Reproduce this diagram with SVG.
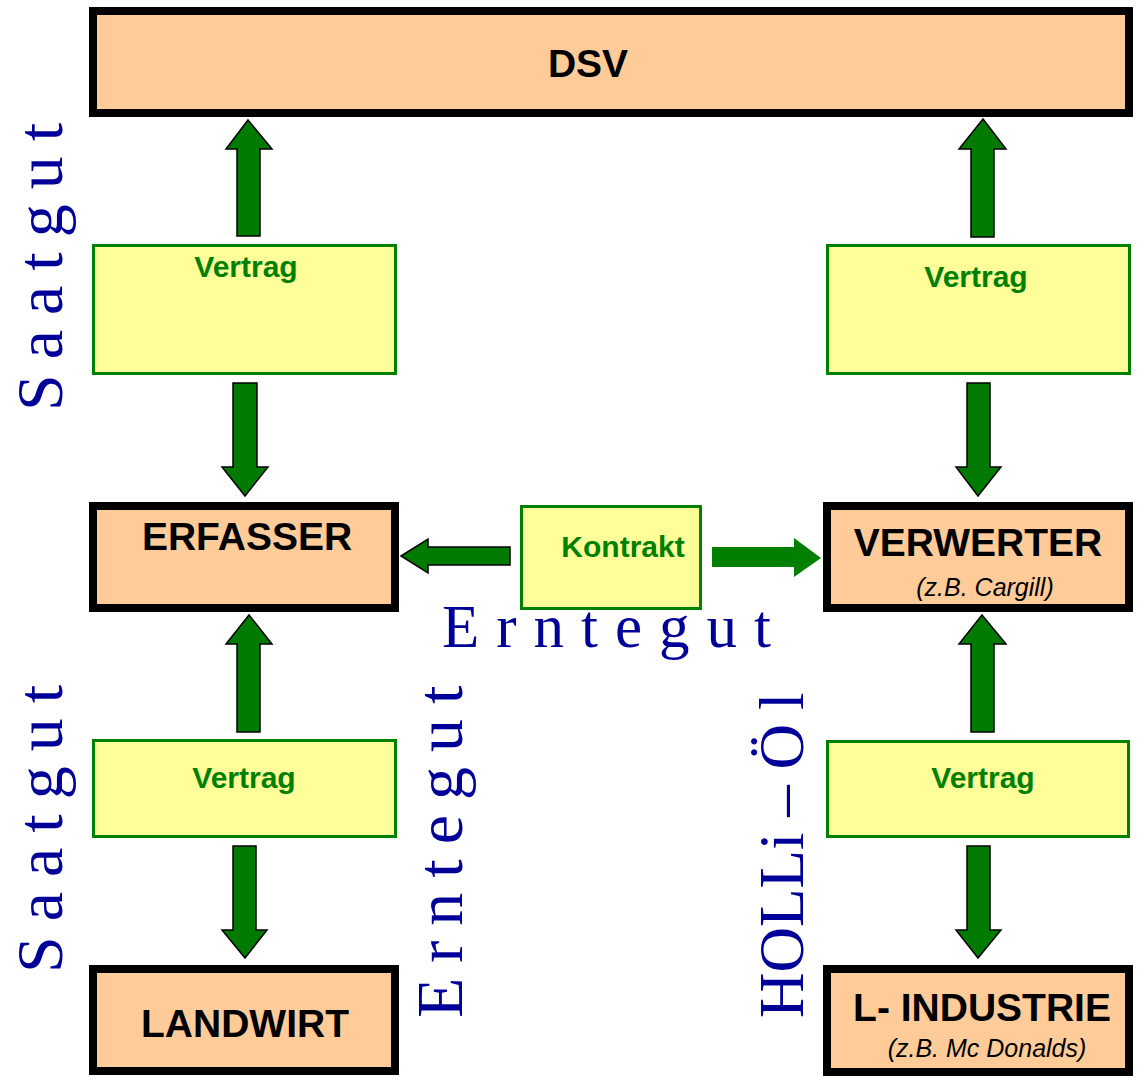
<svg xmlns="http://www.w3.org/2000/svg" width="1144" height="1081" viewBox="0 0 1144 1081">
<style>
.main{fill:#FFCC99;stroke:#000;stroke-width:8}
.vt{fill:#FFFF99;stroke:#008000;stroke-width:3}
.arr{fill:#007A00;stroke:#000;stroke-width:1.5;stroke-linejoin:miter}
.arr2{fill:#008000;stroke:none}
.big{font-family:"Liberation Sans",Arial,sans-serif;font-weight:bold;font-size:39px;fill:#000;text-anchor:middle}
.sub{font-family:"Liberation Sans",Arial,sans-serif;font-style:italic;font-size:25px;fill:#000;text-anchor:middle}
.gt{font-family:"Liberation Sans",Arial,sans-serif;font-weight:bold;font-size:30px;fill:#008000;text-anchor:middle}
.flow{font-family:"Liberation Serif","Times New Roman",serif;font-size:66px;fill:#000099}
</style>
<rect width="1144" height="1081" fill="#fff"/>
<g id="connectors">
<polygon class="arr" points="248,120 272,149 260,149 260,236 237,236 237,149 226,149"/>
<polygon class="arr" points="233,383 257,383 257,467 268,467 245,496 222,467 233,467"/>
<polygon class="arr" points="249,615 272,644 260,644 260,732 237,732 237,644 226,644"/>
<polygon class="arr" points="233,846 256,846 256,930 267,930 245,958 222,930 233,930"/>
<polygon class="arr" points="983,119 1006,149 994,149 994,237 971,237 971,149 959,149"/>
<polygon class="arr" points="967,383 990,383 990,467 1001,467 978,496 956,467 967,467"/>
<polygon class="arr" points="982,615 1006,644 994,644 994,732 971,732 971,644 959,644"/>
<polygon class="arr" points="967,846 990,846 990,930 1001,930 978,958 956,930 967,930"/>
<polygon class="arr" points="401,556 428,539 428,547 510,547 510,565 428,565 428,573"/>
<polygon class="arr2" points="712,547 794,547 794,538 821,558 794,577 794,567 712,567"/>
</g>
<g id="dsv"><rect class="main" x="93" y="11" width="1036" height="102"/><text class="big" x="588" y="77">DSV</text></g>
<g id="vertrag-lo"><rect class="vt" x="93.5" y="245.5" width="302" height="128"/><text class="gt" x="246" y="277">Vertrag</text></g>
<g id="vertrag-ro"><rect class="vt" x="827.5" y="245.5" width="302" height="128"/><text class="gt" x="976" y="287">Vertrag</text></g>
<g id="erfasser"><rect class="main" x="93" y="506" width="302" height="102"/><text class="big" x="247" y="550">ERFASSER</text></g>
<g id="kontrakt"><rect class="vt" x="521.5" y="506.5" width="179" height="102"/><text class="gt" x="623" y="557">Kontrakt</text></g>
<g id="verwerter"><rect class="main" x="827" y="506" width="302" height="102"/><text class="big" x="978" y="556">VERWERTER</text><text class="sub" x="985" y="596">(z.B. Cargill)</text></g>
<g id="vertrag-lu"><rect class="vt" x="93.5" y="740.5" width="302" height="96"/><text class="gt" x="244" y="788">Vertrag</text></g>
<g id="vertrag-ru"><rect class="vt" x="827.5" y="741.5" width="301" height="95"/><text class="gt" x="983" y="788">Vertrag</text></g>
<g id="landwirt"><rect class="main" x="93" y="969" width="302" height="102"/><text class="big" x="245" y="1037">LANDWIRT</text></g>
<g id="industrie"><rect class="main" x="827" y="969" width="302" height="103"/><text class="big" x="982" y="1021">L- INDUSTRIE</text><text class="sub" x="987" y="1057">(z.B. Mc Donalds)</text></g>
<g id="labels">
<text class="flow" letter-spacing="15" transform="translate(62,411) rotate(-90)">Saatgut</text>
<text class="flow" letter-spacing="15" transform="translate(62,973) rotate(-90)">Saatgut</text>
<text class="flow" letter-spacing="15" transform="translate(462,1018) rotate(-90)">Erntegut</text>
<text class="flow" style="font-size:63px" transform="translate(803,1018) rotate(-90)">HOLLi – Ö<tspan dx="14">l</tspan></text>
<text class="flow" letter-spacing="17" x="442" y="647" style="font-size:61px">Erntegut</text>
</g>
</svg>
